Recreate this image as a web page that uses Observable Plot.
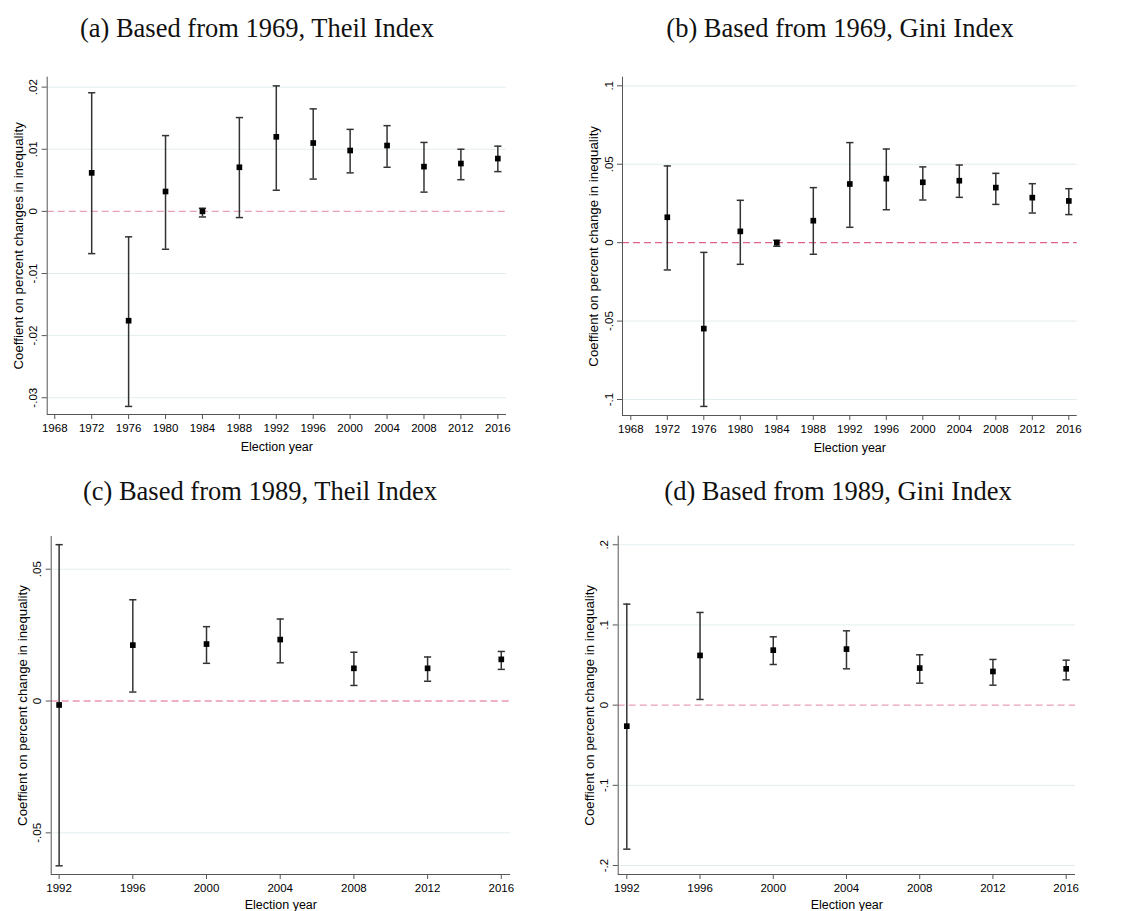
<!DOCTYPE html>
<html>
<head>
<meta charset="utf-8">
<script src="https://cdn.jsdelivr.net/npm/d3@7"></script>
<script src="https://cdn.jsdelivr.net/npm/@observablehq/plot@0.6"></script>
<style>
  html, body { margin: 0; padding: 0; background: #fff; }
  #root { position: relative; width: 1124px; height: 911px; background: #fff; overflow: hidden; }
  .title { position: absolute; width: 560px; text-align: center; font-family: "Liberation Serif", "DejaVu Serif", serif; font-size: 26.5px; line-height: 26px; color: #111; white-space: nowrap; }
  .panel { position: absolute; }
  .panel svg text { font-size: 11.5px !important; font-family: "Liberation Sans", Arial, sans-serif !important; }
  .panel svg [aria-label="x-axis label"] text { font-size: 12.5px !important; }
  .panel svg [aria-label="y-axis label"] text { font-size: 13.3px !important; }
</style>
</head>
<body>
<div id="root"></div>
<script>
// ---------- Data ----------
const years69 = [1972, 1976, 1980, 1984, 1988, 1992, 1996, 2000, 2004, 2008, 2012, 2016];
const theil69   = [0.0062, -0.0176, 0.0032, 0.0000, 0.0071, 0.0120, 0.0110, 0.0098, 0.0106, 0.0072, 0.0077, 0.0085];
const theil69Lo = [-0.0068, -0.0314, -0.0061, -0.0009, -0.0010, 0.0034, 0.0052, 0.0062, 0.0071, 0.0031, 0.0051, 0.0064];
const theil69Hi = [0.0191, -0.0041, 0.0122, 0.0005, 0.0151, 0.0202, 0.0165, 0.0132, 0.0138, 0.0111, 0.0100, 0.0105];

const gini69   = [0.0162, -0.0548, 0.0072, 0.0000, 0.0140, 0.0374, 0.0408, 0.0385, 0.0395, 0.0351, 0.0287, 0.0266];
const gini69Lo = [-0.0174, -0.1044, -0.0138, -0.0023, -0.0074, 0.0098, 0.0210, 0.0272, 0.0289, 0.0244, 0.0189, 0.0179];
const gini69Hi = [0.0489, -0.0062, 0.0270, 0.0015, 0.0351, 0.0638, 0.0597, 0.0483, 0.0495, 0.0442, 0.0376, 0.0344];

const years89 = [1992, 1996, 2000, 2004, 2008, 2012, 2016];
const theil89   = [-0.0015, 0.0212, 0.0216, 0.0233, 0.0124, 0.0124, 0.0158];
const theil89Lo = [-0.0625, 0.0034, 0.0143, 0.0145, 0.0059, 0.0075, 0.0120];
const theil89Hi = [0.0593, 0.0384, 0.0282, 0.0311, 0.0185, 0.0167, 0.0188];

const gini89   = [-0.0262, 0.0620, 0.0686, 0.0699, 0.0462, 0.0420, 0.0453];
const gini89Lo = [-0.1796, 0.0071, 0.0507, 0.0453, 0.0274, 0.0249, 0.0316];
const gini89Hi = [0.1260, 0.1156, 0.0852, 0.0927, 0.0628, 0.0570, 0.0561];

const xTicks69 = [1968, 1972, 1976, 1980, 1984, 1988, 1992, 1996, 2000, 2004, 2008, 2012, 2016];
const xTicks89 = [1992, 1996, 2000, 2004, 2008, 2012, 2016];
const yTicksA = [-0.03, -0.02, -0.01, 0, 0.01, 0.02];
const yTicksB = [-0.1, -0.05, 0, 0.05, 0.1];
const yTicksC = [-0.05, 0, 0.05];
const yTicksD = [-0.2, -0.1, 0, 0.1, 0.2];

const titles = [
  "(a) Based from 1969, Theil Index",
  "(b) Based from 1969, Gini Index",
  "(c) Based from 1989, Theil Index",
  "(d) Based from 1989, Gini Index"
];
const yLabels = [
  "Coeffient on percent changes in inequality",
  "Coeffient on percent change in inequality",
  "Coeffient on percent change in inequality",
  "Coeffient on percent change in inequality"
];
const xLabel = "Election year";

// ---------- helpers ----------
const rows = (years, est, lo, hi) => years.map((year, i) => ({year, est: est[i], lo: lo[i], hi: hi[i]}));
const fmt = d => d === 0 ? "0" : String(+d.toFixed(3)).replace(/^(-?)0\./, "$1.");
const capSymbol = {
  draw(context, size) {
    const w = Math.sqrt(size / Math.PI);
    context.moveTo(-w, 0);
    context.lineTo(w, 0);
  }
};

function panel(cfg) {
  const data = rows(cfg.years, cfg.est, cfg.lo, cfg.hi);
  return Plot.plot({
    width: cfg.width,
    height: cfg.height,
    marginLeft: cfg.ml,
    marginRight: cfg.mr,
    marginTop: cfg.mt,
    marginBottom: cfg.mb,
    style: {fontFamily: "'Liberation Sans', Arial, sans-serif", fontSize: "12px", color: "#000", background: "#fff", overflow: "visible"},
    x: {domain: cfg.xDomain},
    y: {domain: cfg.yDomain},
    marks: [
      Plot.ruleY(cfg.yTicks.filter(d => d !== 0), {stroke: "#e3edef", strokeWidth: 1}),
      Plot.ruleY([0], {stroke: cfg.dash, strokeWidth: 1.2, strokeDasharray: "7,4"}),
      Plot.ruleX([cfg.xDomain[0]], {stroke: "#555", strokeWidth: 1}),
      Plot.ruleY([cfg.yDomain[0]], {stroke: "#555", strokeWidth: 1}),
      Plot.axisX({ticks: cfg.xTicks, tickFormat: d => String(d), tickSize: 5, tickPadding: 4, stroke: "#555", fill: "#000",
                  label: xLabel, labelAnchor: "center", labelArrow: false, labelOffset: cfg.xlo}),
      Plot.axisY({ticks: cfg.yTicks, tickFormat: fmt, tickRotate: -90, tickSize: 5, tickPadding: 5, stroke: "#555", fill: "#000",
                  label: cfg.yLabel, labelAnchor: "center", labelArrow: false, labelOffset: cfg.ylo}),
      Plot.ruleX(data, {x: "year", y1: "lo", y2: "hi", stroke: "#333", strokeWidth: 1.5}),
      Plot.dot(data, {x: "year", y: "lo", symbol: capSymbol, r: 3.6, fill: "none", stroke: "#333", strokeWidth: 1.5}),
      Plot.dot(data, {x: "year", y: "hi", symbol: capSymbol, r: 3.6, fill: "none", stroke: "#333", strokeWidth: 1.5}),
      Plot.dot(data, {x: "year", y: "est", symbol: "square", r: 3.2, fill: "#000", stroke: "none"})
    ]
  });
}

const root = document.getElementById("root");
const cfgs = [
  {left: 0, top: 60, width: 560, height: 395, ml: 46.7, mr: 54, mt: 16.7, mb: 41,
   xDomain: [1967.18, 2016.94], yDomain: [-0.0327, 0.0216], xTicks: xTicks69, yTicks: yTicksA,
   years: years69, est: theil69, lo: theil69Lo, hi: theil69Hi, dash: "#e8a0b4", yLabel: yLabels[0], xlo: 36, ylo: 34,
   title: titles[0], tcx: 257, ttop: 15},
  {left: 560, top: 60, width: 564, height: 395, ml: 62, mr: 47.3, mt: 16.7, mb: 40,
   xDomain: [1967.09, 2016.92], yDomain: [-0.1102, 0.1055], xTicks: xTicks69, yTicks: yTicksB,
   years: years69, est: gini69, lo: gini69Lo, hi: gini69Hi, dash: "#e0628a", yLabel: yLabels[1], xlo: 36, ylo: 34,
   title: titles[1], tcx: 840, ttop: 15},
  {left: 0, top: 510, width: 560, height: 401, ml: 50.7, mr: 50, mt: 26, mb: 37,
   xDomain: [1991.57, 2016.5], yDomain: [-0.0658, 0.0624], xTicks: xTicks89, yTicks: yTicksC,
   years: years89, est: theil89, lo: theil89Lo, hi: theil89Hi, dash: "#e0628a", yLabel: yLabels[2], xlo: 34, ylo: 34,
   title: titles[2], tcx: 260, ttop: 478},
  {left: 560, top: 510, width: 564, height: 401, ml: 57.7, mr: 49, mt: 25.7, mb: 37,
   xDomain: [1991.53, 2016.51], yDomain: [-0.2112, 0.2107], xTicks: xTicks89, yTicks: yTicksD,
   years: years89, est: gini89, lo: gini89Lo, hi: gini89Hi, dash: "#e8a0b4", yLabel: yLabels[3], xlo: 34, ylo: 34,
   title: titles[3], tcx: 838, ttop: 478}
];

for (const cfg of cfgs) {
  const t = document.createElement("div");
  t.className = "title";
  t.textContent = cfg.title;
  t.style.left = (cfg.tcx - 280) + "px";
  t.style.top = cfg.ttop + "px";
  root.appendChild(t);

  const p = document.createElement("div");
  p.className = "panel";
  p.style.left = cfg.left + "px";
  p.style.top = cfg.top + "px";
  p.appendChild(panel(cfg));
  root.appendChild(p);
}
</script>
</body>
</html>
